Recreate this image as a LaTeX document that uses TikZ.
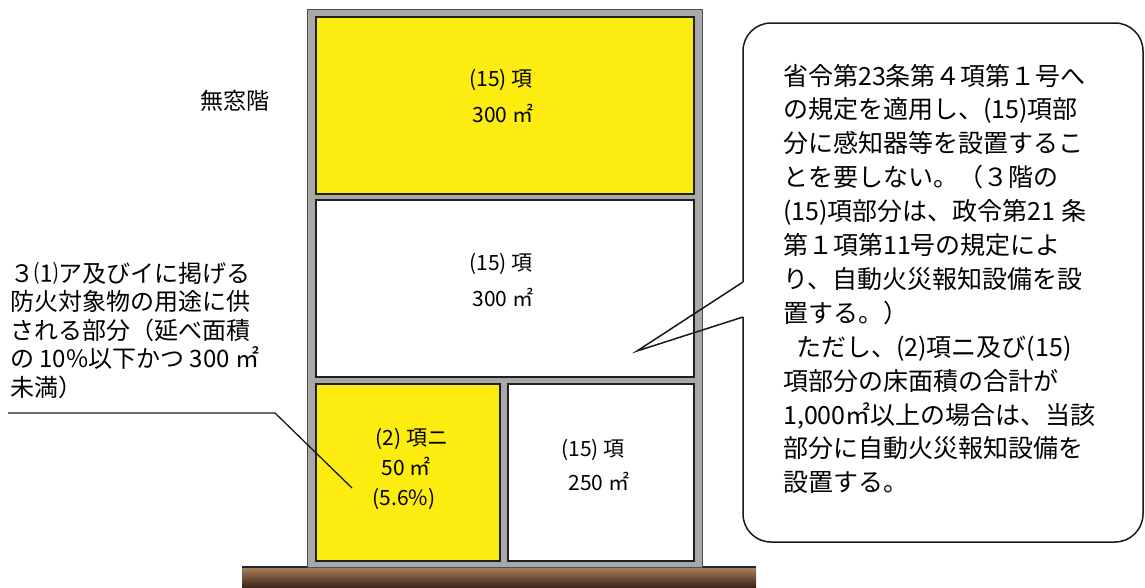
\documentclass[tikz,border=0pt]{standalone}
\usepackage{fontspec}
\newfontfamily\jp{Noto Sans CJK JP}
\definecolor{roomyellow}{RGB}{253,236,16}
\definecolor{wallgray}{RGB}{168,168,168}
\definecolor{groundtop}{RGB}{172,130,94}
\definecolor{groundbot}{RGB}{60,38,24}
\tikzset{
  room/.style={draw=black!88, line width=2pt},
  roomlabel/.style={anchor=base, inner sep=0pt, font=\jp\fontsize{21}{24}\selectfont},
  sidelabel/.style={anchor=base west, inner sep=0pt, font=\jp\fontsize{24}{28}\selectfont},
  bubbletext/.style={anchor=base west, inner sep=0pt, font=\jp\fontsize{25}{30}\selectfont},
  leader/.style={draw=black!90, line width=1.3pt},
  bubbleline/.style={draw=black!90, line width=1.5pt}
}
\begin{document}
\begin{tikzpicture}[x=1pt,y=-1pt]
\useasboundingbox (0,0) rectangle (1145,587);
% ground
\shade[top color=groundtop, bottom color=groundbot] (242,567) rectangle (756,587);
\draw[line width=1.5pt, black!85] (242,567) -- (756,567);
% building walls
\draw[fill=wallgray, draw=black!70, line width=1pt] (307,9) rectangle (702,567);
% rooms
\draw[room, fill=roomyellow] (316,17) rectangle (694,194);
\draw[room, fill=white] (316,200) rectangle (694,377);
\draw[room, fill=roomyellow] (316,384) rectangle (500,561);
\draw[room, fill=white] (508,384) rectangle (694,561);
% room labels
\node[roomlabel] (r1a) at (501,86) {(15) 項};
\node[roomlabel] (r1b) at (503,122) {300 ㎡};
\node[roomlabel] (r2a) at (501,270) {(15) 項};
\node[roomlabel] (r2b) at (503,306) {300 ㎡};
\node[roomlabel] (r3a) at (412,445) {(2) 項ニ};
\node[roomlabel] (r3b) at (406,475) {50 ㎡};
\node[roomlabel] (r3c) at (404,505) {(5.6\%)};
\node[roomlabel] (r4a) at (593,456) {(15) 項};
\node[roomlabel] (r4b) at (599,490) {250 ㎡};
% floor label
\node[anchor=base, inner sep=0pt, font=\jp\fontsize{23}{26}\selectfont] (mado) at (235,109) {無窓階};
% left annotation
\foreach \t [count=\i] in {{３⑴ア及びイに掲げる},{防火対象物の用途に供},{される部分（延べ面積},{の 10\%以下かつ 300 ㎡},{未満）}}
  \node[sidelabel] (s\i) at (10,{282+28.5*(\i-1)}) {\t};
\coordinate (L0) at (8,413);
\coordinate (L1) at (275,413);
\coordinate (L2) at (352,488);
\draw[leader] (L0) -- (L1) -- (L2);
% speech bubble
\coordinate (T1) at (743,282);
\coordinate (T2) at (743,317);
\coordinate (TIP) at (637,351);
\draw[bubbleline, fill=white, rounded corners=28pt] (T1) -- (743,23) -- (1143,23) -- (1143,542) -- (743,542) -- (T2);
\draw[bubbleline, line join=miter] (T1) -- (TIP) -- (T2);
\foreach \t [count=\i] in {{省令第23条第４項第１号へ},{の規定を適用し、(15)項部},{分に感知器等を設置するこ},{とを要しない。（３階の},{(15)項部分は、政令第21 条},{第１項第11号の規定によ},{り、自動火災報知設備を設},{置する。）},{\hspace*{13pt}ただし、(2)項ニ及び(15)},{項部分の床面積の合計が},{1,000㎡以上の場合は、当該},{部分に自動火災報知設備を},{設置する。}}
  \node[bubbletext] (b\i) at (783,{85+33.9*(\i-1)}) {\t};
\end{tikzpicture}
\end{document}
